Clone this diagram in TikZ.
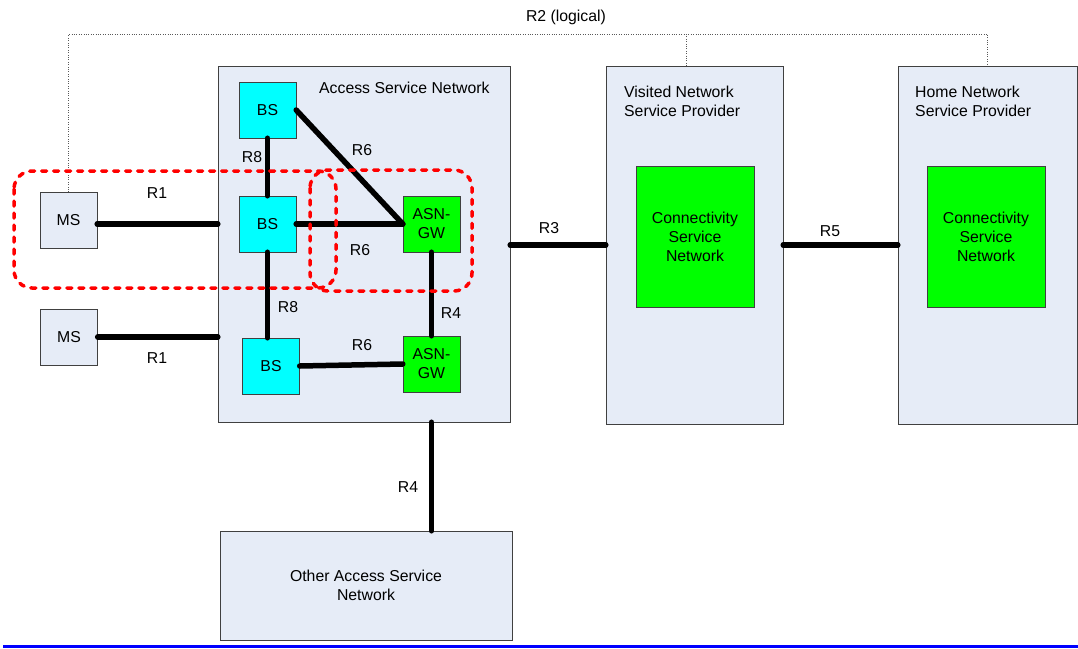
\documentclass[tikz,border=0pt]{standalone}
\usepackage{fontspec}
\setmainfont{Liberation Sans}
\usepackage{tikz}
\usetikzlibrary{positioning,calc}

\definecolor{netfill}{HTML}{E6ECF7}
\definecolor{netedge}{HTML}{404040}
\definecolor{bscyan}{HTML}{00FFFF}
\definecolor{gwgreen}{HTML}{00FF00}

\begin{document}
\begin{tikzpicture}[x=1pt,y=-1pt,
    font=\fontsize{15.8}{19}\selectfont,
    net/.style={draw=netedge, fill=netfill, inner sep=0pt, align=center},
    unit/.style={draw=netedge, inner sep=0pt, minimum width=57pt, minimum height=56pt, align=center},
    bsbox/.style={unit, fill=bscyan},
    gwbox/.style={unit, fill=gwgreen},
    link/.style={line width=5.5pt, line cap=round},
    logical/.style={gray!70!black, dotted, thin},
    group/.style={red, line width=3.5pt, line cap=round, dash pattern=on 5pt off 7pt, rounded corners=18pt}]
      \useasboundingbox (0,0) rectangle (1078,648);
      % network boxes
      \node[net, minimum width=292pt, minimum height=356pt] (asn) at (364,244) {};
      \node[anchor=west, inner sep=0pt] (asntitle) at (319,88) {Access Service Network};
      \node[net, minimum width=177pt, minimum height=358pt] (visited) at (694.5,245) {};
      \node[anchor=north west, inner sep=0pt, align=left] (visitedtitle) at (624,86) {Visited Network\\Service Provider};
      \node[net, minimum width=179pt, minimum height=358pt] (home) at (987.5,245) {};
      \node[anchor=north west, inner sep=0pt, align=left] (hometitle) at (915,86) {Home Network\\Service Provider};
      \node[net, minimum width=292pt, minimum height=109pt] (other) at (366,585.5) {Other Access Service\\Network};
      \node[gwbox, minimum width=118pt, minimum height=141pt] (csn1) at (695,236.5) {Connectivity\\Service\\Network};
      \node[gwbox, minimum width=118pt, minimum height=141pt] (csn2) at (986,236.5) {Connectivity\\Service\\Network};
      % units
      \node[unit, fill=netfill] (ms1) at (68.5,220) {MS};
      \node[unit, fill=netfill] (ms2) at (69,337) {MS};
      \node[bsbox] (bs1) at (267.5,110) {BS};
      \node[bsbox] (bs2) at (267.5,224) {BS};
      \node[bsbox] (bs3) at (271,366) {BS};
      \node[gwbox] (gw1) at (431.5,224) {ASN-\\GW};
      \node[gwbox] (gw2) at (431.5,364) {ASN-\\GW};
      % R2 (logical)
      \coordinate (r2) at (0,34);
      \draw[logical] (ms1.north) -- (ms1.north |- r2) -- (home.north |- r2) -- (home.north);
      \draw[logical] ([xshift=-8pt]visited.north |- r2) -- ([xshift=-8pt]visited.north);
      \node (r2label) at (566,17) {R2 (logical)};
      % reference points
      \draw[link] (ms1.east |- bs2) -- (asn.west |- bs2);
      \draw[link] (ms2.east) -- (ms2.east -| asn.west);
      \draw[link] (bs1.south) -- (bs2.north);
      \draw[link] (bs2.south) -- (bs2.south |- bs3.north);
      \draw[link] (bs1.east) -- (gw1.west);
      \draw[link] (bs2.east) -- (gw1.west);
      \draw[link] (gw1.south) -- (gw2.north);
      \draw[link] (bs3.east) -- (gw2.west);
      \draw[link] (gw2.south |- asn.south) -- (gw2.south |- other.north);
      \draw[link] (asn.east |- visited.west) -- (visited.west);
      \draw[link] (visited.east) -- (home.west);
      \node (r1a) at (157,193) {R1};
      \node (r1b) at (157,358) {R1};
      \node (r8a) at (252,157) {R8};
      \node (r8b) at (288,307) {R8};
      \node (r6a) at (362,150) {R6};
      \node (r6b) at (360,250) {R6};
      \node (r6c) at (362,345) {R6};
      \node (r4a) at (451,313) {R4};
      \node (r4b) at (408,487) {R4};
      \node (r3) at (549,228) {R3};
      \node (r5) at (830,231) {R5};
      % dashed groups
      \draw[group] (14,171) rectangle (336,288);
      \draw[group] (310,170) rectangle (472,291);
      \draw[blue, line width=3pt] (3,646) -- (1078,646);
    \end{tikzpicture}
\end{document}
